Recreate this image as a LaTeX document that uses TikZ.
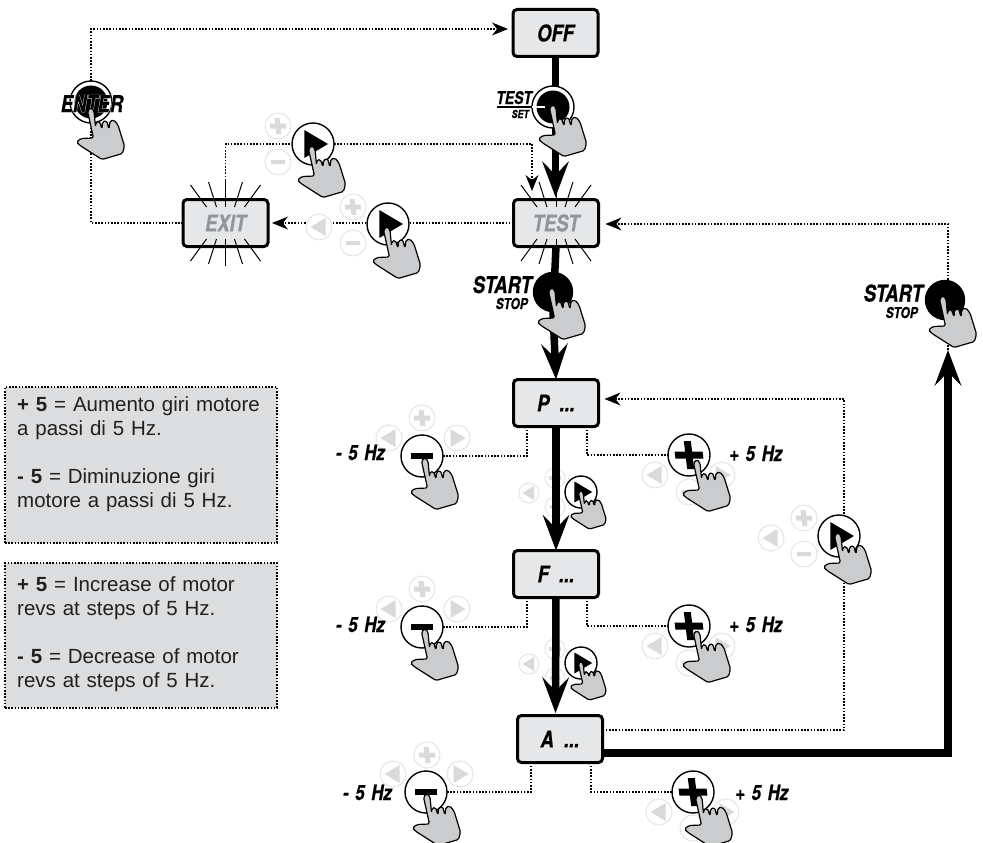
\documentclass[tikz,border=0pt]{standalone}
\usepackage{fontspec}
\setmainfont{Liberation Sans}
\newfontfamily\cond[FakeStretch=0.8,FakeBold=0.6]{TeX Gyre Heros}
\newfontfamily\condout[FakeStretch=0.8,FakeBold=4]{TeX Gyre Heros}
\usetikzlibrary{arrows.meta,calc}
\pgfdeclarelayer{dots}\pgfdeclarelayer{ghosts}\pgfdeclarelayer{thick}
\pgfsetlayers{dots,ghosts,thick,main}
\definecolor{boxgray}{HTML}{E6E7E8}
\definecolor{infogray}{HTML}{DCDDDE}
\definecolor{ghostline}{HTML}{E4E5E6}
\definecolor{ghostsym}{HTML}{D9DADB}
\definecolor{handgray}{HTML}{CBCCCE}
\definecolor{dimtext}{HTML}{939598}
\definecolor{inktext}{HTML}{231F20}
\tikzset{
  dotline/.style={line width=1.8pt,dash pattern=on 1.6pt off 1.6pt},
  dottip/.style={-{Stealth[length=16pt,width=13pt,inset=5pt,line width=0pt]}},
  thickline/.style={line width=7.5pt},
  thicktip/.style={-{Stealth[length=36pt,width=27pt,inset=14pt,line width=0pt]}},
  boxst/.style={draw,line width=3pt,rounded corners=4pt,fill=boxgray,minimum width=85pt,minimum height=47pt,outer sep=0pt,inner sep=0pt,font=\fontsize{23}{23}\selectfont\cond\bfseries\itshape},
  infost/.style={draw,fill=infogray,line width=1.8pt,dash pattern=on 1.6pt off 1.6pt,anchor=north west,minimum width=272pt,outer sep=0pt},
  infotext/.style={anchor=north west,inner sep=0pt,text width=258pt,align=left,text=inktext,font=\fontsize{20.5}{24}\selectfont},
  ghostst/.style={circle,draw=ghostline,line width=1pt,fill=white,inner sep=0pt,outer sep=0pt},
  gsym/.style={fill=ghostsym},
  btnst/.style={circle,draw,line width=1.4pt,fill=white,inner sep=0pt,outer sep=0pt},
  handst/.style={draw=black,fill=handgray,line width=1.2pt,line join=round,rounded corners=1.6pt},
  raylineb/.style={line width=1pt},
  lab/.style={inner sep=0pt,font=\fontsize{21}{21}\selectfont\cond\bfseries\itshape},
  big/.style={inner sep=0pt,font=\fontsize{23}{23}\selectfont\cond\bfseries\itshape},
  small/.style={inner sep=0pt,font=\fontsize{15}{15}\selectfont\cond\bfseries\itshape},
}
\newcounter{gn}
\newcommand\gsplus{\fill[gsym,xslant=-0.12] (-8,-2.5) rectangle (8,2.5) (-2.5,-8) rectangle (2.5,8);}
\newcommand\gsminus{\fill[gsym,xslant=-0.12] (-7,-2) rectangle (7,2);}
\newcommand\gsleft{\fill[gsym] (6.5,-9) -- (6.5,9) -- (-8.5,0) -- cycle;}
\newcommand\gsright{\fill[gsym] (-6.5,-9) -- (-6.5,9) -- (8.5,0) -- cycle;}
\newcommand\ghost[4][1]{\stepcounter{gn}\node[ghostst,minimum size=#1*26pt] (g\thegn) at (#2,#3) {};
  \begin{scope}[shift={(#2,#3)},scale=#1]\csname gs#4\endcsname\end{scope}}
\newcommand\hand[3][1]{\begin{scope}[shift={(#2,#3)},scale=#1]
  \path[handst] (-3.5,1) -- (2.5,28) -- (-10,28.5) -- (-14.5,32) -- (-11,35.5) -- (11,49.5) -- (31.5,43.5) -- (33.5,36) -- (27,15) -- (23,10) -- (19,11) -- (18,19) -- (15.5,10.5) -- (11.5,12) -- (11,19) -- (8.5,11.5) -- (5,12) -- (4.5,17) -- (3,1) -- (0,-2.5) -- cycle;
  \end{scope}}
\newcommand\tri[2][1]{\begin{scope}[shift={(#2)},scale=#1]\fill (-8.7,-14) -- (-8.7,14) -- (15,0) -- cycle;\end{scope}}
\newcommand\plussym[1]{\begin{scope}[shift={(#1)}]\fill[xslant=-0.12] (-14,-3.5) rectangle (14,3.5) (-3.5,-14) rectangle (3.5,14);\end{scope}}
\newcommand\minussym[1]{\begin{scope}[shift={(#1)}]\fill (-11,-3) rectangle (11,3);\end{scope}}
\newcommand\rays[1]{\begin{scope}[shift={(#1.center)}]
  \foreach \a/\b/\c/\d in {-35/-38/-19/-16,-17/-41/-9/-16,0/-43/0/-16,17/-41/9/-16,35/-38/19/-16,-35/38/-19/16,-17/41/-9/16,0/43/0/16,17/41/9/16,35/38/19/16}
    {\draw[raylineb] (\a,\b) -- (\c,\d);}
  \end{scope}}
\begin{document}
\begin{tikzpicture}[x=1pt,y=-1pt]
\useasboundingbox (0,0) rectangle (983,843);
\node[boxst] (off) at (555.5,33) {OFF};
\node[boxst,text=dimtext] (test) at (556,223) {TEST};
\node[boxst,text=dimtext] (exit) at (225.5,223) {EXIT};
\node[boxst] (p) at (556,403) {P~~...};
\node[boxst] (f) at (556,574) {F~~...};
\node[boxst] (a) at (560,739) {A~~...};
\rays{test}\rays{exit}
\coordinate (c1) at (92,29);
\coordinate (rc) at (948,224);
\coordinate (rtip) at (948,350);
\coordinate (rbend) at (948,753);
\coordinate (loopb) at (844,730);
\coordinate (loopt) at (844,399);
\coordinate (c2) at (532,144);
\coordinate (c3) at (532,191);
\coordinate (mid1) at (555.5,197);
\coordinate (mid2) at (555.5,713);
% buttons
\node[btnst,minimum size=42pt] (bEnter) at (91,102) {};
\node[btnst,minimum size=42pt] (bTest) at (553,107) {};
\node[btnst,minimum size=42pt] (bA) at (313,144) {};
\node[btnst,minimum size=42pt] (bB) at (388,224) {};
\node[btnst,minimum size=42pt] (bC) at (839,536) {};
\node[btnst,minimum size=39pt,fill=black] (bStart) at (553,292) {};
\node[btnst,minimum size=39pt,fill=black] (bStartR) at (945,300) {};
\node[btnst,minimum size=42pt] (mP) at (422,456) {};
\node[btnst,minimum size=42pt] (mF) at (422,627) {};
\node[btnst,minimum size=42pt] (mA) at (426,792) {};
\node[btnst,minimum size=42pt] (pP) at (689,455) {};
\node[btnst,minimum size=42pt] (pF) at (689,626) {};
\node[btnst,minimum size=42pt] (pA) at (693,792) {};
\node[btnst,minimum size=32pt] (sP) at (581,492) {};
\node[btnst,minimum size=32pt] (sF) at (581,663) {};
% dotted connectors
\begin{pgfonlayer}{dots}
\draw[dotline,dottip,shorten >=5pt] (bEnter.north) -- (bEnter.north |- c1) -- (off.west |- c1);
\draw[dotline] (exit.west) -| (bEnter.south);
\draw[dotline] (exit.north) |- (bA.west);
\draw[dotline] (bA.east) -- (c2);
\draw[dotline,dottip] (c2) -- (c3);
\draw[dotline,dottip,shorten >=4pt] (test.west) -- (exit.east);
\draw[dotline,dottip,shorten >=7pt] (rtip) -- (rc) -- (test.east |- rc);
\draw[dotline,dottip,shorten >=6pt] (a.east |- loopb) -- (loopb) -- (loopt) -- (p.east |- loopt);
\foreach \bx/\m/\q in {p/mP/pP,f/mF/pF,a/mA/pA}{
  \draw[dotline] ([xshift=-29pt]\bx.south) |- (\m.east);
  \draw[dotline] ([xshift=31pt]\bx.south) |- (\q.west);
}
\end{pgfonlayer}
% ghost buttons
\begin{pgfonlayer}{ghosts}
\ghost{278}{126}{plus}\ghost{278}{162}{minus}
\ghost{353}{207}{plus}\ghost{353}{243}{minus}\ghost{319}{227}{left}
\ghost{804}{518}{plus}\ghost{804}{554}{minus}\ghost{771}{538}{left}
\ghost{422}{418}{plus}\ghost{389}{438}{left}\ghost{457}{438}{right}
\ghost{422}{589}{plus}\ghost{389}{609}{left}\ghost{457}{609}{right}
\ghost{427}{755}{plus}\ghost{393}{774}{left}\ghost{460}{774}{right}
\ghost{655}{475}{left}\ghost{722}{475}{right}\ghost{689}{492}{minus}
\ghost{655}{646}{left}\ghost{722}{646}{right}\ghost{689}{663}{minus}
\ghost{659}{812}{left}\ghost{726}{812}{right}\ghost{693}{828}{minus}
\ghost[0.77]{529}{493}{left}\ghost[0.77]{555}{478}{plus}\ghost[0.77]{555}{507}{minus}
\ghost[0.77]{529}{664}{left}\ghost[0.77]{555}{649}{plus}\ghost[0.77]{555}{678}{minus}
\end{pgfonlayer}
% thick connectors
\begin{pgfonlayer}{thick}
\draw[thickline,thicktip] (off.south) -- (mid1);
\draw[thickline] (test.south) -- (bStart.south);
\draw[thickline,thicktip] (bStart.south) -- (p.north);
\draw[thickline,thicktip] (p.south) -- (f.north);
\draw[thickline,thicktip] (f.south) -- (mid2);
\draw[thickline,thicktip] (a.east |- rbend) -- (rbend) -- (rtip);
\end{pgfonlayer}
\fill (bEnter) circle (16.5pt);
\fill (bTest) circle (16.5pt);
\tri{bA}\tri{bB}\tri{bC}\tri[0.75]{sP}\tri[0.75]{sF}
\minussym{mP}\minussym{mF}\minussym{mA}
\plussym{pP}\plussym{pF}\plussym{pA}
% labels
\node[big,anchor=base east] (lStart) at (532,293) {START};
\node[small,anchor=base east] (lStop) at (528,309) {STOP};
\node[big,anchor=base east] (lStartR) at (923,301.5) {START};
\node[small,anchor=base east] (lStopR) at (918,318) {STOP};
\node[lab,font=\fontsize{17.5}{17.5}\selectfont\cond\bfseries\itshape,anchor=base east] (lTest) at (532,104) {TEST};
\node[lab,font=\fontsize{11}{11}\selectfont\cond\bfseries\itshape,anchor=base east] (lSet) at (529,118) {SET};
\draw[line width=1.5pt] (lTest.base east |- bTest) ++(-35,0) -- (bTest.west);
\draw[white,line width=1.5pt] (bTest.west) -- +(13,0);
\node[big,text=white,font=\fontsize{23}{23}\selectfont\condout\bfseries\itshape,anchor=base] (lEnterOut) at (92,112) {ENTER};
\node[big,anchor=base] (lEnter) at (92,112) {ENTER};
\node[lab,anchor=base east] (m1) at (385,460) {-\hspace{2pt} 5\hspace{2pt} Hz};
\node[lab,anchor=base east] (m2) at (385,632) {-\hspace{2pt} 5\hspace{2pt} Hz};
\node[lab,anchor=base east] (m3) at (392,800) {-\hspace{2pt} 5\hspace{2pt} Hz};
\node[lab,anchor=base west] (p1) at (729,461) {+\hspace{2pt} 5\hspace{2pt} Hz};
\node[lab,anchor=base west] (p3) at (729,632) {+\hspace{2pt} 5\hspace{2pt} Hz};
\node[lab,anchor=base west] (p4) at (735,800) {+\hspace{2pt} 5\hspace{2pt} Hz};
% hands
\hand{91}{110}\hand{553}{107}\hand{312}{148}\hand{387}{229}\hand{838}{535}
\hand{552}{290}\hand{943}{298}
\hand{425}{460}\hand{425}{631}\hand{427}{796}
\hand{697}{462}\hand{697}{633}\hand{699}{797}
\hand[0.75]{581}{492}\hand[0.75]{581}{663}
% info boxes
\node[infost,minimum height=156pt] (i1) at (5,387) {};
\node[infost,minimum height=145pt] (i2) at (5,563) {};
\node[infotext] (t1) at (17,396.5) {\textbf{+ 5} = Aumento giri motore\\a passi di 5 Hz.\\[24pt]\textbf{- 5} = Diminuzione giri\\motore a passi di 5 Hz.};
\node[infotext] (t2) at (17,576.5) {\textbf{+ 5} = Increase of motor\\revs at steps of 5 Hz.\\[24pt]\textbf{- 5} = Decrease of motor\\revs at steps of 5 Hz.};
\end{tikzpicture}
\end{document}
